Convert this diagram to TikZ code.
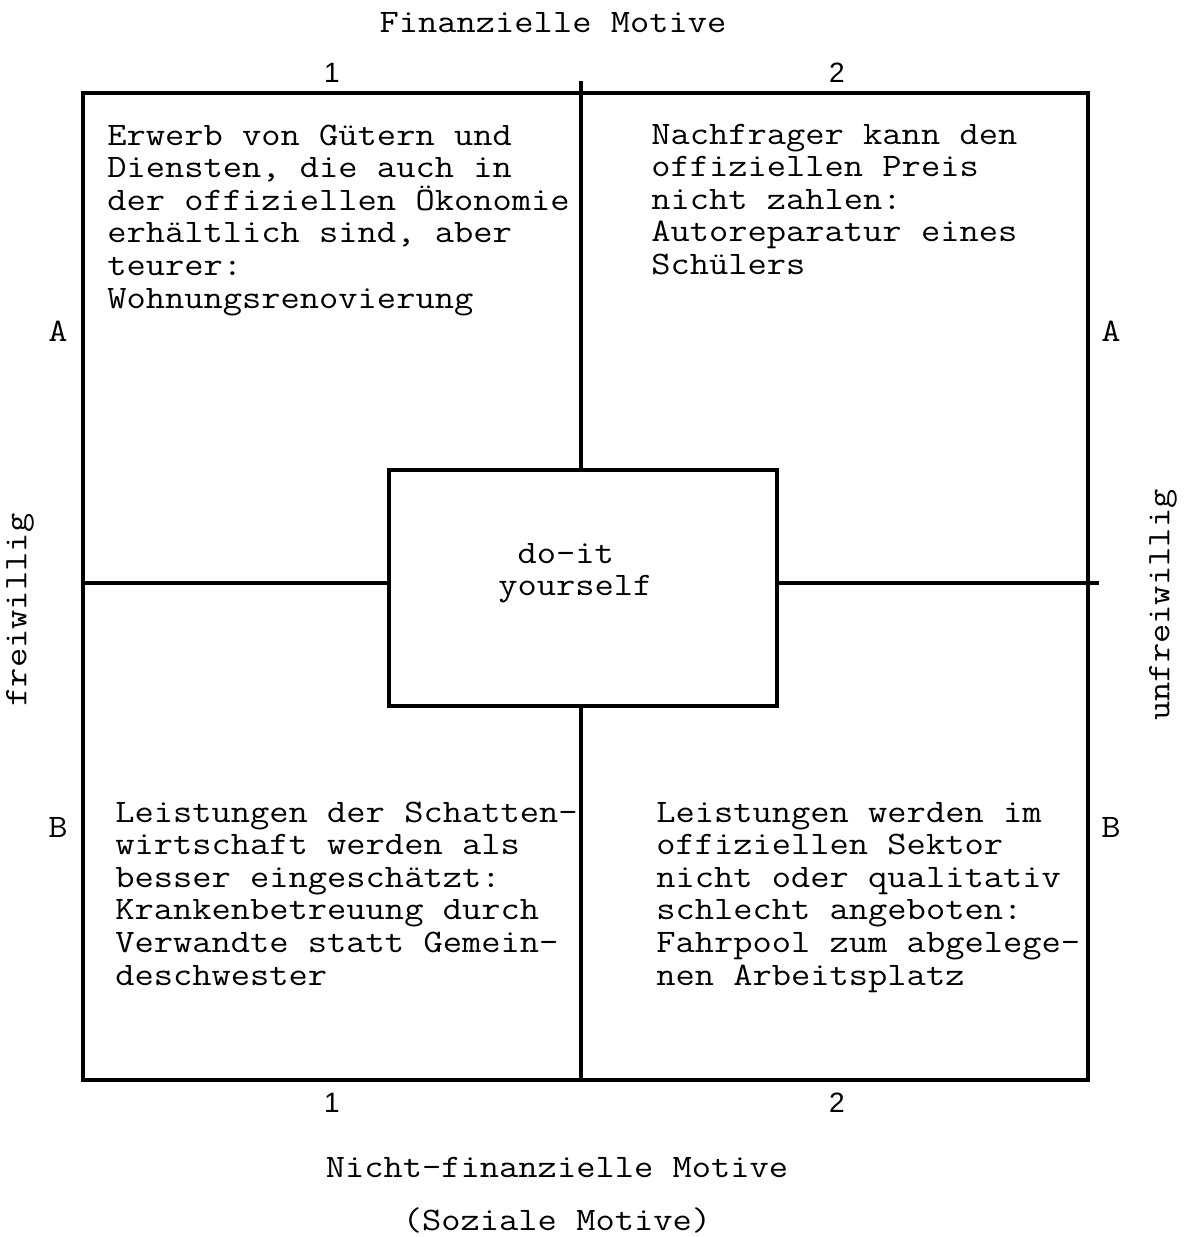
\documentclass[tikz,border=0pt]{standalone}
\usepackage{fontspec}
\newfontfamily\tw{Latin Modern Mono}[FakeStretch=1.14]
\newfontfamily\sansf{Liberation Sans}
\newcommand{\twsize}{\tw\fontsize{16.4}{16.3}\selectfont}
\newcommand{\qlines}[1]{\parbox[t]{300pt}{\raggedright\twsize #1}}
\begin{document}
\begin{tikzpicture}[x=0.5pt,y=-0.5pt,
  rule/.style={line width=1.7pt, line cap=rect},
  lbl/.style={font=\twsize, inner sep=0pt},
  num/.style={font=\sansf\fontsize{14}{14}\selectfont, inner sep=0pt, anchor=base},
  qtext/.style={inner sep=0pt, anchor=base west},
  diybox/.style={draw, line width=1.7pt, minimum width=194pt, minimum height=118pt, inner sep=0pt}
]
\useasboundingbox (0,0) rectangle (1185,1237);

% frame corners and line ends
\coordinate (TL) at (83,93);
\coordinate (BR) at (1088,1080);
\coordinate (mtop) at (581,83);
\coordinate (mbot) at (581,1080);
\coordinate (hl) at (83,583);
\coordinate (hr) at (1097,583);

\node[diybox] (diy) at (583,588) {};
\node[lbl, anchor=base west] (diytext) at (498,563) {\parbox[t]{100pt}{\raggedright\twsize\hphantom{x}do-it\\yourself}};

\draw[rule] (TL) rectangle (BR);
\draw[rule] (mtop) -- (mtop |- diy.north);
\draw[rule] (mbot |- diy.south) -- (mbot);
\draw[rule] (hl) -- (hl -| diy.west);
\draw[rule] (hr -| diy.east) -- (hr);

% axis titles
\node[lbl, anchor=base] (fin) at (553,32) {Finanzielle Motive};
\node[lbl, anchor=base] (nfin) at (557,1177) {Nicht-finanzielle Motive};
\node[lbl, anchor=base] (soz) at (557,1230) {(Soziale Motive)};
\node[lbl, rotate=90] (frei) at (20,610) {freiwillig};
\node[lbl, rotate=90] (unfrei) at (1163,605) {unfreiwillig};

% column numbers
\node[num] (t1) at (332,82) {1};
\node[num] (t2) at (837,82) {2};
\node[num] (b1) at (332,1112) {1};
\node[num] (b2) at (837,1112) {2};

% row letters
\node[lbl, anchor=base] (la) at (58,341) {A};
\node[lbl, anchor=base] (ra) at (1111,341) {A};
\node[lbl, anchor=base] (lb) at (58,837) {B};
\node[lbl, anchor=base] (rb) at (1111,837) {B};

% quadrant texts
\node[qtext] (q1a) at (107,145) {\qlines{Erwerb von Gütern und\\Diensten, die auch in\\der offiziellen Ökonomie\\erhältlich sind, aber\\teurer:\\Wohnungsrenovierung}};
\node[qtext] (q2a) at (651,144) {\qlines{Nachfrager kann den\\offiziellen Preis\\nicht zahlen:\\Autoreparatur eines\\Schülers}};
\node[qtext] (q1b) at (115,822) {\qlines{Leistungen der Schatten-\\wirtschaft werden als\\besser eingeschätzt:\\Krankenbetreuung durch\\Verwandte statt Gemein-\\deschwester}};
\node[qtext] (q2b) at (656,822) {\qlines{Leistungen werden im\\offiziellen Sektor\\nicht oder qualitativ\\schlecht angeboten:\\Fahrpool zum abgelege-\\nen Arbeitsplatz}};
\end{tikzpicture}
\end{document}
